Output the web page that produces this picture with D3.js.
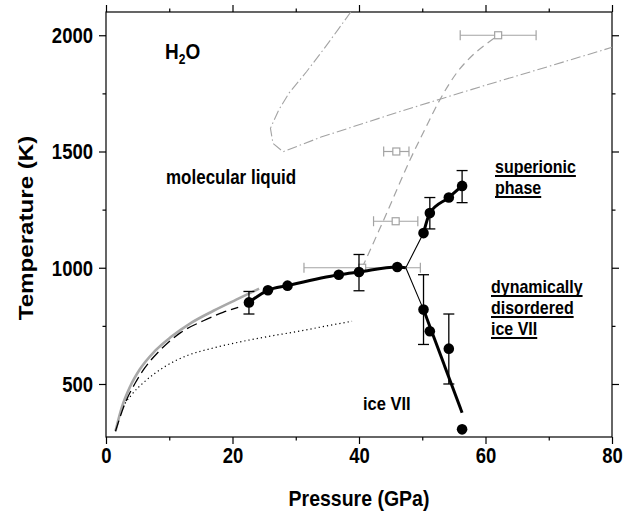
<!DOCTYPE html>
<html><head><meta charset="utf-8">
<script src="https://cdn.jsdelivr.net/npm/d3@7"></script>
<style>body{margin:0;background:#fff}svg{display:block}text{font-family:"Liberation Sans",Arial,sans-serif;font-weight:bold;fill:#000}</style>
</head><body><svg id="c" width="636" height="513"></svg>
<script>
// ---- data ----
const xMajor = [0, 20, 40, 60, 80];
const xMinor = [10, 30, 50, 70];
const yMajor = [500, 1000, 1500, 2000];
const yMinor = [750, 1250, 1750];

// melting curve (black dots, thick line)
const meltP = [22.6, 25.6, 28.7, 36.8, 40.0, 46.05, 47.4];
const meltT = [851, 903, 923, 970, 982, 1003, 1000];
const meltDots = 6; // first six are measured points
// superionic boundary
const supP = [50.2, 51.2, 54.2, 56.3];
const supT = [1149, 1235, 1302, 1352];
// ice VII / disordered boundary points
const iceP = [50.2, 51.2, 54.2, 56.3];
const iceT = [820, 727, 652, 305];
const iceLineP = [50.2, 56.3];
const iceLineT = [820, 376];
// thin connectors from triple point
const tripleP = [50.2, 47.4, 50.2];
const tripleT = [1149, 1000, 820];
// vertical error bars (black)
const vErrP = [22.6, 40.0, 51.2, 56.3, 50.2, 54.2];
const vErrLo = [801, 901, 1167, 1280, 670, 500];
const vErrHi = [898, 1057, 1302, 1418, 970, 801];
// open squares with horizontal error bars (gray)
const sqP = [40.5, 45.8, 45.9, 62.0];
const sqT = [1000, 1200, 1500, 2000];
const sqErr = [9.2, 3.5, 2.0, 6.0];
// gray dashed melting curve
const gdP = [40.5, 44.3, 48.0, 50.5, 52.9, 55.5, 58.0, 60.0, 62.0];
const gdT = [1000, 1230, 1460, 1600, 1728, 1840, 1915, 1960, 2000];
// gray dash-dot curve
const ddP = [38.7, 36.6, 34.5, 31.7, 28.9, 27.3, 26.0, 26.4, 28.0, 34.0, 40.7, 46.5, 52.8, 60.0, 70.0, 80.0];
const ddT = [2100, 2021, 1943, 1843, 1750, 1678, 1600, 1535, 1499, 1562, 1621, 1672, 1725, 1785, 1866, 1948];
// low pressure curves
const gsP = [1.5, 2.5, 3.8, 5.3, 7.7, 10.3, 13.4, 17.0, 20.6, 24.2];
const gsT = [297, 399, 488, 561, 641, 703, 762, 815, 863, 910];
const bdP = [1.5, 3.0, 4.6, 6.1, 8.4, 11.8, 15.4, 18.5, 20.9];
const bdT = [297, 416, 503, 568, 641, 721, 772, 808, 830];
const dotP = [1.5, 2.0, 2.7, 4.0, 6.1, 9.2, 12.8, 17.0, 21.0, 25.4, 30.7, 35.9, 38.9];
const dotT = [297, 350, 400, 452, 510, 573, 622, 655, 680, 703, 728, 755, 770];

// ---- layout ----
const L = 106, R = 612, T = 12, B = 437;
const SY = 1.15; // vertical stretch of lettering
const x = d3.scaleLinear().domain([0, 80]).range([L, R]);
const y = d3.scaleLinear().domain([272, 2100]).range([B, T]);
const svg = d3.select("#c");
const gray = "#a3a3a3";
const zip = (a, b) => a.map((v, i) => [v, b[i]]);
const line = (c) => d3.line().x(d => x(d[0])).y(d => y(d[1])).curve(c || d3.curveLinear);

// frame
svg.append("rect").attr("x", L).attr("y", T).attr("width", R - L).attr("height", B - T)
  .attr("fill", "none").attr("stroke", "#000").attr("stroke-width", 1.2);

function axes(gen, pos, major, minor, labels) {
  const g = svg.append("g").attr("transform", pos);
  g.call(gen.tickValues(minor).tickSize(3.5).tickFormat(""));
  const g2 = svg.append("g").attr("transform", pos);
  g2.call(gen.tickValues(major).tickSize(7).tickPadding(labels ? 6 : 0).tickFormat(labels ? d3.format("d") : ""));
  [g, g2].forEach(s => { s.select(".domain").remove(); s.selectAll("line").attr("stroke", "#000").attr("stroke-width", 1.2); });
  return g2;
}
const gb = axes(d3.axisBottom(x), `translate(0,${B})`, xMajor, xMinor, true);
axes(d3.axisTop(x), `translate(0,${T})`, xMajor, xMinor, false);
const gl = axes(d3.axisLeft(y), `translate(${L},0)`, yMajor, yMinor, true);
axes(d3.axisRight(y), `translate(${R},0)`, yMajor, yMinor, false);
// stretch tick labels vertically
gb.selectAll(".tick text").each(function () {
  d3.select(this).attr("font-size", 18.5).attr("fill", "#000").attr("y", 0).attr("dy", null)
    .attr("transform", `translate(0,${25.5}) scale(1,${SY})`);
});
gl.selectAll(".tick text").each(function () {
  d3.select(this).attr("font-size", 18.5).attr("fill", "#000").attr("dy", null).attr("x", null)
    .attr("transform", `translate(-13,${7.5}) scale(1,${SY})`);
});
gb.selectAll(".tick text").attr("font-family", "Liberation Sans, Arial").attr("font-weight", "bold");
gl.selectAll(".tick text").attr("font-family", "Liberation Sans, Arial").attr("font-weight", "bold");

function txt(x0, y0, size, s, anchor) {
  return svg.append("text").attr("transform", `translate(${x0},${y0}) scale(1,${SY})`)
    .attr("font-size", size).attr("text-anchor", anchor || "start").text(s);
}
// axis titles
txt((L + R) / 2, 506, 19.5, "Pressure (GPa)", "middle");
svg.append("text").attr("transform", `translate(33,${228}) rotate(-90) scale(${SY},1)`)
  .attr("text-anchor", "middle").attr("font-size", 21).text("Temperature (K)");

const plot = svg.append("g");
// gray dash-dot
plot.append("path").attr("d", line()(zip(ddP, ddT))).attr("fill", "none").attr("stroke", gray).attr("stroke-width", 1.1).attr("stroke-dasharray", "10,3,1.5,3");
// gray dashed
plot.append("path").attr("d", line(d3.curveMonotoneX)(zip(gdP, gdT))).attr("fill", "none").attr("stroke", gray).attr("stroke-width", 1.2).attr("stroke-dasharray", "8,5");
// low P curves
plot.append("path").attr("d", line(d3.curveMonotoneX)(zip(dotP, dotT))).attr("fill", "none").attr("stroke", "#000").attr("stroke-width", 1.2).attr("stroke-dasharray", "1.2,3");
plot.append("path").attr("d", line(d3.curveMonotoneX)(zip(gsP, gsT))).attr("fill", "none").attr("stroke", "#a8a8a8").attr("stroke-width", 2.6);
plot.append("path").attr("d", line(d3.curveMonotoneX)(zip(bdP, bdT))).attr("fill", "none").attr("stroke", "#000").attr("stroke-width", 1.3).attr("stroke-dasharray", "11,5");

// gray squares & horizontal error bars
sqP.forEach((p, i) => {
  const g = plot.append("g").attr("stroke", gray).attr("stroke-width", 1.2).attr("fill", "none");
  g.append("line").attr("x1", x(p - sqErr[i])).attr("x2", x(p + sqErr[i])).attr("y1", y(sqT[i])).attr("y2", y(sqT[i]));
  [p - sqErr[i], p + sqErr[i]].forEach(e => g.append("line").attr("x1", x(e)).attr("x2", x(e)).attr("y1", y(sqT[i]) - 5).attr("y2", y(sqT[i]) + 5));
  g.append("rect").attr("x", x(p) - 3.5).attr("y", y(sqT[i]) - 3.5).attr("width", 7).attr("height", 7).attr("fill", "#fff");
});

// thin connectors
plot.append("path").attr("d", line()(zip(tripleP, tripleT))).attr("fill", "none").attr("stroke", "#000").attr("stroke-width", 1.1);
// thick lines
plot.append("path").attr("d", line(d3.curveMonotoneX)(zip(meltP, meltT))).attr("fill", "none").attr("stroke", "#000").attr("stroke-width", 3);
plot.append("path").attr("d", line(d3.curveMonotoneX)(zip(supP, supT))).attr("fill", "none").attr("stroke", "#000").attr("stroke-width", 3);
plot.append("path").attr("d", line()(zip(iceLineP, iceLineT))).attr("fill", "none").attr("stroke", "#000").attr("stroke-width", 3);

// black error bars
vErrP.forEach((p, i) => {
  const g = plot.append("g").attr("stroke", "#000").attr("stroke-width", 1.3);
  g.append("line").attr("x1", x(p)).attr("x2", x(p)).attr("y1", y(vErrLo[i])).attr("y2", y(vErrHi[i]));
  [vErrLo[i], vErrHi[i]].forEach(e => g.append("line").attr("x1", x(p) - 5.5).attr("x2", x(p) + 5.5).attr("y1", y(e)).attr("y2", y(e)));
});
// black dots
const dots = zip(meltP.slice(0, meltDots), meltT.slice(0, meltDots)).concat(zip(supP, supT), zip(iceP, iceT));
plot.selectAll("circle.d").data(dots).enter().append("circle").attr("cx", d => x(d[0])).attr("cy", d => y(d[1])).attr("r", 5.3).attr("fill", "#000");

// labels
const h = svg.append("text").attr("transform", `translate(165,59) scale(1,${SY})`).attr("font-size", 19);
h.append("tspan").text("H");
h.append("tspan").attr("font-size", 12).attr("dy", 4.5).text("2");
h.append("tspan").attr("dy", -4.5).text("O");
txt(166, 184, 17, "molecular liquid");
txt(363, 410, 16.5, "ice VII");
function ul(lines, x0, y0, dy) {
  lines.forEach((t, i) => {
    const tx = txt(x0, y0 + i * dy, 16, t);
    const w = tx.node().getComputedTextLength();
    svg.append("line").attr("x1", x0).attr("x2", x0 + w).attr("y1", y0 + i * dy + 3).attr("y2", y0 + i * dy + 3).attr("stroke", "#000").attr("stroke-width", 2);
  });
}
ul(["superionic", "phase"], 495, 173, 21);
ul(["dynamically", "disordered", "ice VII"], 491, 293, 21);
</script></body></html>
